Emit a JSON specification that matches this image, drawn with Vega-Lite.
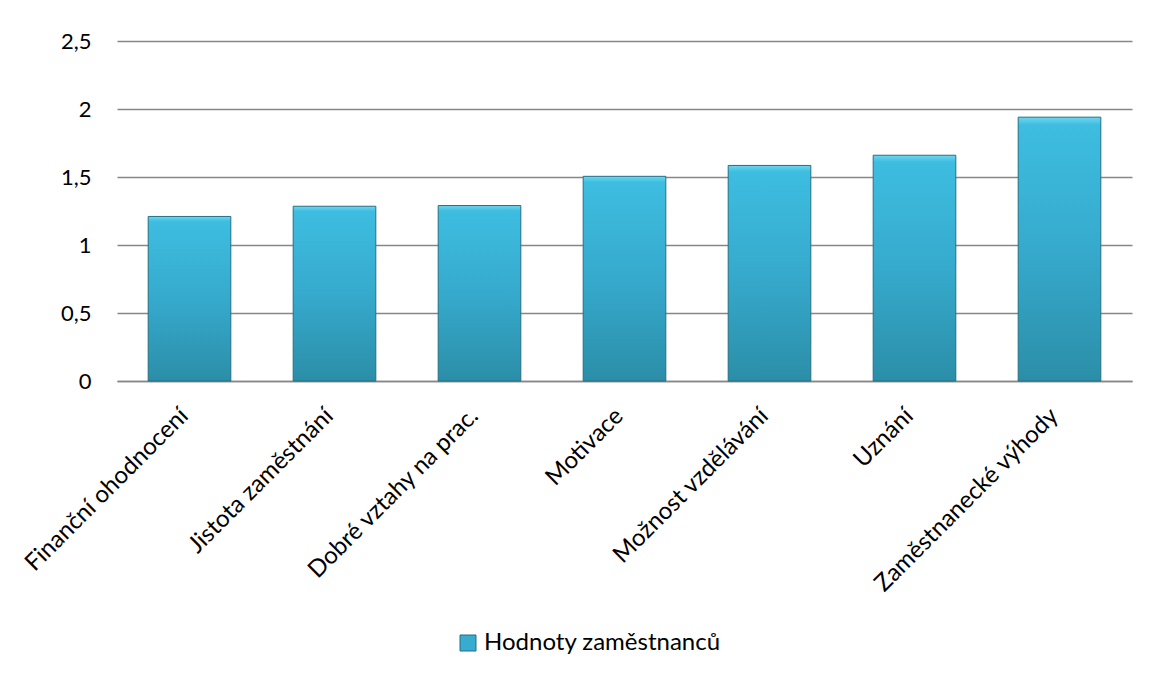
{
  "$schema": "https://vega.github.io/schema/vega-lite/v6.json",
  "width": 1015,
  "height": 340,
  "autosize": "none",
  "padding": {"left": 117, "top": 41, "right": 17, "bottom": 293},
  "background": "white",
  "config": {
    "font": "Lato",
    "view": {"stroke": null}
  },
  "data": {
    "values": [
      {"kategorie": "Finanční ohodnocení", "hodnota": 1.21, "serie": "Hodnoty zaměstnanců"},
      {"kategorie": "Jistota zaměstnání", "hodnota": 1.285, "serie": "Hodnoty zaměstnanců"},
      {"kategorie": "Dobré vztahy na prac.", "hodnota": 1.29, "serie": "Hodnoty zaměstnanců"},
      {"kategorie": "Motivace", "hodnota": 1.505, "serie": "Hodnoty zaměstnanců"},
      {"kategorie": "Možnost vzdělávání", "hodnota": 1.585, "serie": "Hodnoty zaměstnanců"},
      {"kategorie": "Uznání", "hodnota": 1.66, "serie": "Hodnoty zaměstnanců"},
      {"kategorie": "Zaměstnanecké výhody", "hodnota": 1.94, "serie": "Hodnoty zaměstnanců"}
    ]
  },
  "encoding": {
    "x": {
      "field": "kategorie",
      "type": "nominal",
      "sort": null,
      "scale": {"paddingInner": 0.43, "paddingOuter": 0.215},
      "axis": {
        "title": null,
        "labelAngle": -45,
        "labelAlign": "right",
        "labelBaseline": "alphabetic",
        "labelPadding": 36,
        "labelFontSize": 24,
        "labelColor": "#000000",
        "labelFont": "Lato",
        "ticks": false,
        "domain": true,
        "domainColor": "#868686",
        "domainWidth": 1.5,
        "labelLimit": 400
      }
    },
    "y": {
      "field": "hodnota",
      "type": "quantitative",
      "scale": {"domain": [0, 2.5]},
      "axis": {
        "title": null,
        "values": [0, 0.5, 1, 1.5, 2, 2.5],
        "labelExpr": "replace(format(datum.value, ''), '.', ',')",
        "labelFontSize": 22,
        "labelColor": "#000000",
        "labelPadding": 26,
        "ticks": false,
        "domain": false,
        "grid": true,
        "gridColor": "#868686",
        "gridWidth": 1.5
      }
    }
  },
  "layer": [
    {
      "mark": {
        "type": "bar",
        "stroke": "#256f82",
        "strokeWidth": 1,
        "color": {
          "gradient": "linear",
          "x1": 0, "y1": 0, "x2": 0, "y2": 1,
          "stops": [
            {"offset": 0, "color": "#6fd6f0"},
            {"offset": 0.03, "color": "#3dbde0"},
            {"offset": 0.5, "color": "#36aacd"},
            {"offset": 1, "color": "#2b8ea8"}
          ]
        }
      }
    },
    {
      "mark": {"type": "bar", "opacity": 0},
      "encoding": {
        "color": {
          "field": "serie",
          "type": "nominal",
          "scale": {"range": ["#37acd0"]},
          "legend": {
            "title": null,
            "orient": "none",
            "legendX": 339,
            "legendY": 590,
            "symbolType": "square",
            "symbolSize": 256,
            "symbolOpacity": 1,
            "symbolStrokeColor": "#256f82",
            "symbolStrokeWidth": 1,
            "labelFontSize": 24,
            "labelColor": "#000000",
            "labelOffset": 4,
            "labelLimit": 400
          }
        }
      }
    }
  ]
}
